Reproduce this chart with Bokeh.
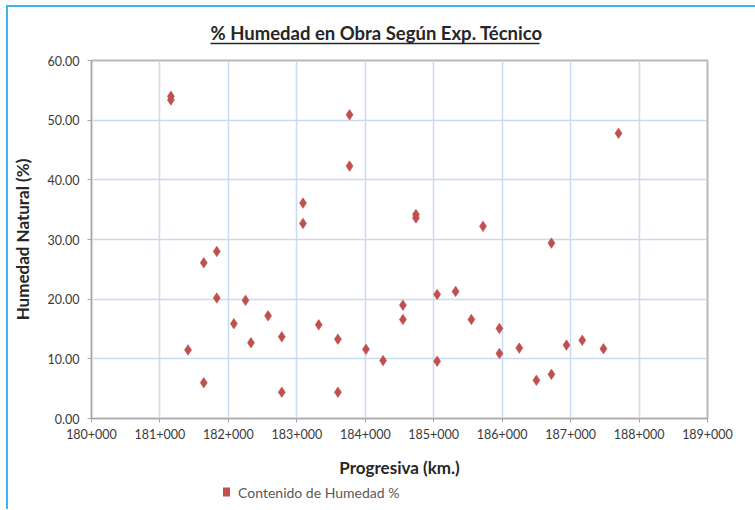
from bokeh.plotting import figure
from bokeh.models import (ColumnDataSource, NumeralTickFormatter, CustomJSTickFormatter,
                          FixedTicker, Range1d, LinearAxis)
from bokeh.embed import file_html
from bokeh.resources import INLINE

# ---- data (progresiva in km, humedad in %) ----
progresiva = [181.16, 181.16, 181.41, 181.64, 181.64, 181.83, 181.83, 182.08, 182.25,
              182.33, 182.58, 182.78, 182.78, 183.09, 183.09, 183.32, 183.60, 183.60,
              183.77, 183.77, 184.01, 184.26, 184.55, 184.55, 184.74, 184.74, 185.05,
              185.05, 185.32, 185.55, 185.72, 185.96, 185.96, 186.25, 186.50, 186.72,
              186.72, 186.94, 187.17, 187.48, 187.70]
humedad = [53.4, 54.0, 11.5, 26.1, 6.0, 28.0, 20.2, 15.9, 19.8,
           12.7, 17.2, 13.7, 4.4, 36.1, 32.7, 15.7, 13.3, 4.4,
           50.9, 42.3, 11.6, 9.7, 19.0, 16.6, 34.2, 33.6, 20.8,
           9.6, 21.3, 16.6, 32.2, 15.1, 10.9, 11.8, 6.4, 29.4,
           7.4, 12.3, 13.1, 11.7, 47.8]
x_ticks = [180, 181, 182, 183, 184, 185, 186, 187, 188, 189]
y_ticks = [0, 10, 20, 30, 40, 50, 60]
title_text = "% Humedad en Obra Según Exp. Técnico"
x_label = "Progresiva (km.)"
y_label = "Humedad Natural (%)"
series_name = "Contenido de Humedad %"

# layout constants on the x scale (not data)
UNDERLINE_SPAN = (181.74, 186.55)
LEGEND_MARK_X = 181.97
LEGEND_TEXT_X = 183.32

FONT = "Lato"
RED = "#c0504d"

FW, FH = 616, 358
p = figure(width=747, height=502, frame_width=FW, frame_height=FH,
           min_border_left=83, min_border_top=53, min_border_right=48, min_border_bottom=91,
           x_range=Range1d(180, 189), y_range=Range1d(0, 60),
           output_backend="svg", toolbar_location=None, tools="")
p.styles = {"margin-left": "6px", "margin-top": "5px",
            "border-left": "2px solid #3cb6f0", "border-top": "2px solid #3cb6f0"}
p.background_fill_color = "white"
p.border_fill_color = "white"
p.outline_line_color = "#b8b8b8"
p.outline_line_width = 2

src = ColumnDataSource(dict(x=progresiva, y=humedad))
r = p.scatter("x", "y", source=src, marker="diamond", size=10.5,
              fill_color=RED, line_color=RED, line_width=0.6)

# axes
for ax in (p.xaxis[0], p.yaxis[0]):
    ax.axis_line_color = "#a6a6a6"
    ax.axis_line_width = 1
    ax.major_tick_line_color = "#a6a6a6"
    ax.major_tick_out = 4
    ax.major_tick_in = 0
    ax.minor_tick_line_color = None
    ax.major_label_text_font = FONT
    ax.major_label_text_font_size = "12.5px"
    ax.major_label_text_color = "#3a3a3a"
    ax.axis_label_text_font = FONT
    ax.axis_label_text_font_style = "bold"
    ax.axis_label_text_font_size = "17px"
    ax.axis_label_text_color = "#262626"

p.xaxis.ticker = FixedTicker(ticks=x_ticks)
p.yaxis.ticker = FixedTicker(ticks=y_ticks)
p.xaxis.formatter = CustomJSTickFormatter(code="""
const k = Math.floor(tick + 1e-9);
const m = Math.round((tick - k) * 1000);
return k + "+" + String(m).padStart(3, "0");
""")
p.yaxis.formatter = NumeralTickFormatter(format="0.00")
p.xaxis.major_label_standoff = 6
p.yaxis.major_label_standoff = 8
p.xaxis.axis_label = x_label
p.yaxis.axis_label = y_label
p.xaxis.axis_label_standoff = 15
p.yaxis.axis_label_standoff = 12

p.grid.grid_line_color = "#c9dbf2"
p.grid.grid_line_width = 1.5


def spacer_axis(height):
    return LinearAxis(ticker=FixedTicker(ticks=[184.5]),
                      formatter=CustomJSTickFormatter(code='return ""'),
                      axis_line_color=None, major_tick_out=height - 5, major_tick_in=0,
                      major_tick_line_color=None, minor_tick_line_color=None,
                      major_label_text_font_size="0px", major_label_standoff=5)


# title with underline: spacer, underline (bounded axis line), then the title
p.add_layout(spacer_axis(22), "above")
underline = LinearAxis(ticker=FixedTicker(ticks=[]), bounds=UNDERLINE_SPAN,
                       axis_line_color="#262626", axis_line_width=1.3,
                       major_tick_out=0, major_tick_in=0,
                       major_tick_line_color=None, minor_tick_line_color=None,
                       major_label_text_font_size="0px")
p.add_layout(underline, "above")
p.title.text = title_text
p.title.text_font = FONT
p.title.text_font_size = "18.5px"
p.title.text_font_style = "bold"
p.title.text_color = "#262626"
p.title.align = "left"
p.title.offset = 119
p.title.standoff = 0

# legend row below the axis title: red marker (minor tick) + series name (tick label)
p.add_layout(spacer_axis(12), "below")
legend_axis = LinearAxis(ticker=FixedTicker(ticks=[LEGEND_TEXT_X], minor_ticks=[LEGEND_MARK_X]),
                         formatter=CustomJSTickFormatter(args=dict(lab=series_name),
                                                         code="return lab"),
                         axis_line_color=None,
                         major_tick_out=9, major_tick_in=0, major_tick_line_color=None,
                         minor_tick_out=9, minor_tick_in=0, minor_tick_line_color=RED,
                         minor_tick_line_width=7,
                         major_label_text_font=FONT, major_label_text_font_size="14px",
                         major_label_text_color="#595959", major_label_standoff=-13)
p.add_layout(legend_axis, "below")

open("out.html", "w").write(file_html(p, INLINE))
